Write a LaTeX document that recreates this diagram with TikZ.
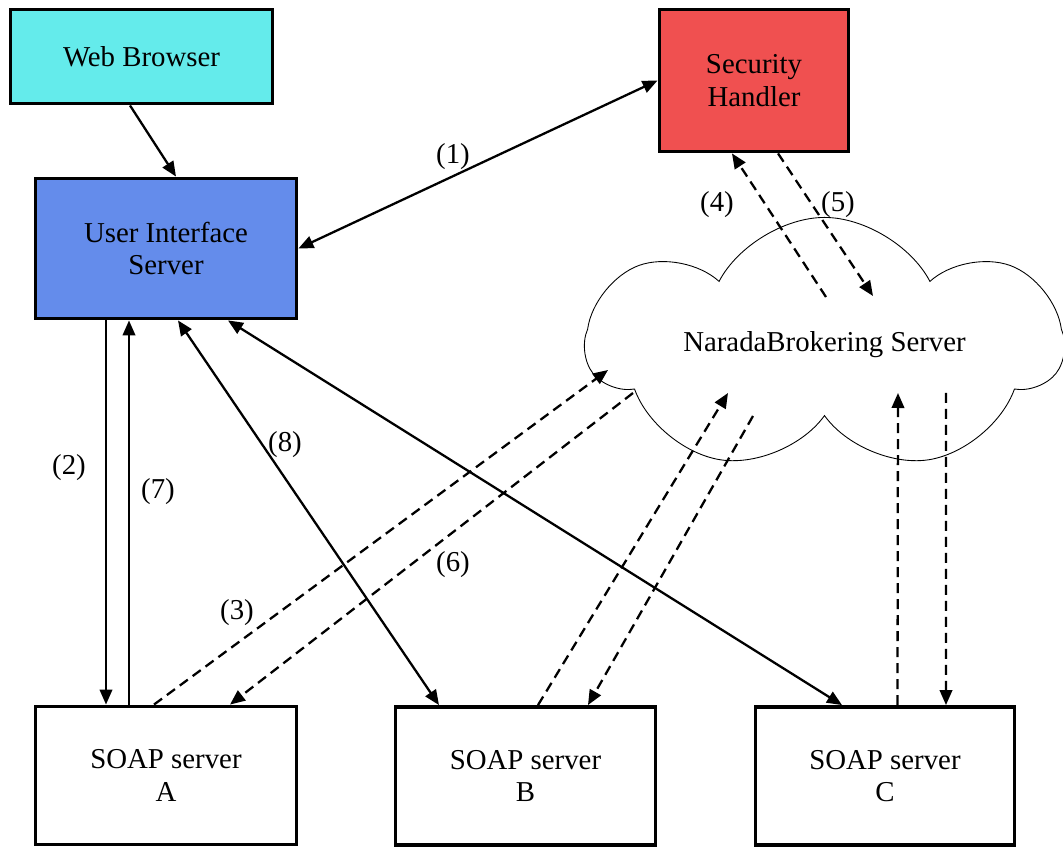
\documentclass[tikz,border=0pt]{standalone}
\usepackage{fontspec}
\setmainfont{Liberation Serif}
\usetikzlibrary{arrows.meta,shapes.symbols}
\definecolor{webcyan}{RGB}{100,235,235}
\definecolor{secred}{RGB}{240,80,80}
\definecolor{uiblue}{RGB}{100,140,235}

\begin{document}
\begin{tikzpicture}[>={Triangle[length=0.3cm,width=0.25cm]},
  every node/.style={font=\fontsize{16.4}{18.5}\selectfont, align=center},
  box/.style={draw, line width=2.2pt, inner sep=0pt},
  conn/.style={line width=1.3pt},
  msg/.style={line width=1.3pt, dash pattern=on 0.2cm off 0.12cm}]
\useasboundingbox (0,0) rectangle (21.26,16.96);
\node[box, fill=webcyan, minimum width=5.24cm, minimum height=1.88cm] (Web) at (2.83,15.83) {Web Browser};
\node[box, fill=secred, minimum width=3.78cm, minimum height=2.84cm] (Sec) at (15.08,15.35) {Security\\Handler};
\node[box, fill=uiblue, minimum width=5.22cm, minimum height=2.8cm] (UI) at (3.32,11.99) {User Interface\\Server};
\node[box, minimum width=5.22cm, minimum height=2.76cm] (SoapA) at (3.32,1.45) {SOAP server\\A};
\node[box, minimum width=5.2cm, minimum height=2.76cm] (SoapB) at (10.51,1.44) {SOAP server\\B};
\node[box, minimum width=5.18cm, minimum height=2.76cm] (SoapC) at (17.70,1.44) {SOAP server\\C};
\node[draw, cloud, cloud puffs=7, cloud puff arc=125, aspect=2.4, line width=0.5pt, inner sep=0pt, minimum width=9.5cm, minimum height=3.8cm] (NB) at (16.49,10.06) {\raisebox{-0.12cm}{NaradaBrokering Server}};
\node (L1) at (9.06,13.82) {(1)};
\node (L2) at (1.38,7.60) {(2)};
\node (L3) at (4.74,4.70) {(3)};
\node (L4) at (14.34,12.86) {(4)};
\node (L5) at (16.76,12.86) {(5)};
\node (L6) at (9.06,5.66) {(6)};
\node (L7) at (3.16,7.12) {(7)};
\node (L8) at (5.70,8.06) {(8)};
\draw[conn,->] ([xshift=-0.23cm]Web.south) -- ([xshift=0.2cm]UI.north);
\draw[conn,<->] (UI.east) -- (Sec.west);
\draw[conn,->] ([xshift=-1.2cm]UI.south) -- ([xshift=-1.2cm]SoapA.north);
\draw[conn,->] ([xshift=-0.74cm]SoapA.north) -- ([xshift=-0.74cm]UI.south);
\draw[conn,<->] ([xshift=0.24cm]UI.south) -- ([xshift=-1.73cm]SoapB.north);
\draw[conn,<->] ([xshift=1.24cm]UI.south) -- ([xshift=-0.86cm]SoapC.north);
\draw[msg,->] ([shift={(0.03,0.96)}]NB.center) -- ([xshift=-0.44cm]Sec.south);
\draw[msg,->] ([xshift=0.48cm]Sec.south) -- ([shift={(0.97,0.98)}]NB.center);
\draw[msg,->] ([xshift=-0.24cm]SoapA.north) -- ([shift={(-4.33,-0.5)}]NB.center);
\draw[msg,->] ([shift={(-3.83,-0.96)}]NB.center) -- ([xshift=1.28cm]SoapA.north);
\draw[msg,->] ([xshift=0.25cm]SoapB.north) -- ([shift={(-1.93,-0.96)}]NB.center);
\draw[msg,->] ([shift={(-1.43,-1.42)}]NB.center) -- ([xshift=1.25cm]SoapB.north);
\draw[msg,->] ([xshift=0.25cm]SoapC.north) -- ([shift={(1.47,-0.96)}]NB.center);
\draw[msg,->] ([shift={(2.43,-0.96)}]NB.center) -- ([xshift=1.22cm]SoapC.north);
\end{tikzpicture}
\end{document}
